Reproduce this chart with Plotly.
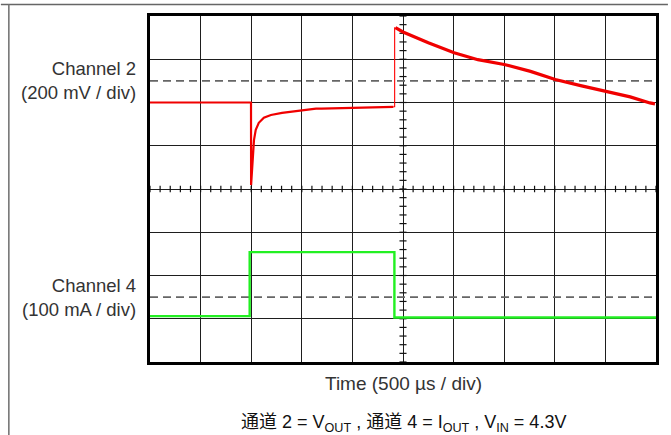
import plotly.graph_objects as go

# Screen divisions: 10 horizontal (500 us each), 8 vertical
X_DIVS = 10
Y_DIVS = 8

# Channel 2 (V_OUT), in screen divisions
ch2_t = [0.0, 1.996, 1.998, 2.035, 2.055, 2.09, 2.15, 2.25, 2.39, 2.61, 2.94,
         3.28, 3.39, 4.38, 4.81]
ch2_v = [6.00, 6.00, 4.09, 4.90, 5.13, 5.37, 5.53, 5.65, 5.71, 5.76, 5.81,
         5.86, 5.86, 5.88, 5.90]
ch2_step_t = [4.81, 4.835, 4.835, 4.85]
ch2_step_v = [5.90, 5.90, 7.73, 7.73]
ch2_decay_t = [4.85, 5.00, 5.50, 6.01, 6.48, 7.00, 7.52, 8.01, 8.51, 9.01,
               9.49, 9.88, 9.98]
ch2_decay_v = [7.73, 7.63, 7.38, 7.15, 6.99, 6.88, 6.72, 6.53, 6.39, 6.26,
               6.13, 5.99, 5.97]

# Channel 4 (I_OUT), in screen divisions
ch4_t = [0.0, 1.97, 1.97, 4.83, 4.83, 10.0]
ch4_v = [1.06, 1.06, 2.54, 2.54, 1.03, 1.03]

# Channel ground markers (dashed reference levels)
ref_levels = [6.5, 1.5]

channel_labels = ["Channel 2<br>(200 mV / div)", "Channel 4<br>(100 mA / div)"]
time_label = "Time (500 \u00b5s / div)"
caption = ("通道 2 = V<sub>OUT</sub> , 通道 4 = I<sub>OUT</sub> , "
           "V<sub>IN</sub> = 4.3V")

W, H = 671, 435
L, R, T, B = 150, 12, 16, 73
pw, ph = W - L - R, H - T - B


def px_x(p):
    return (p - L) / pw


def px_y(p):
    return (H - B - p) / ph


fig = go.Figure()

# dashed reference levels
for lvl in ref_levels:
    fig.add_trace(go.Scatter(x=[0, X_DIVS], y=[lvl, lvl], mode="lines",
                             line=dict(color="#666666", width=1.7, dash="8px,5px"),
                             hoverinfo="skip", showlegend=False))

# minor ticks on the centre cross-hair
tx, ty = [], []
for k in range(X_DIVS * 5 + 1):
    x = k * 0.2
    tx += [x, x, None]
    ty += [Y_DIVS / 2 - 0.075, Y_DIVS / 2 + 0.075, None]
for k in range(Y_DIVS * 5 + 1):
    y = k * 0.2
    tx += [X_DIVS / 2 - 0.07, X_DIVS / 2 + 0.07, None]
    ty += [y, y, None]
fig.add_trace(go.Scatter(x=tx, y=ty, mode="lines",
                         line=dict(color="#111111", width=1.2),
                         hoverinfo="skip", showlegend=False))

# Channel 4 trace
fig.add_trace(go.Scatter(x=ch4_t, y=ch4_v, mode="lines",
                         line=dict(color="#22f022", width=2.4),
                         hoverinfo="skip", showlegend=False))

# Channel 2 trace
fig.add_trace(go.Scatter(x=ch2_t, y=ch2_v, mode="lines",
                         line=dict(color="#f00000", width=2.2),
                         hoverinfo="skip", showlegend=False))
fig.add_trace(go.Scatter(x=ch2_step_t, y=ch2_step_v, mode="lines",
                         line=dict(color="#ff0000", width=1.1),
                         hoverinfo="skip", showlegend=False))
fig.add_trace(go.Scatter(x=ch2_decay_t, y=ch2_decay_v, mode="lines",
                         line=dict(color="#f00000", width=3.2),
                         hoverinfo="skip", showlegend=False))

axis_common = dict(showticklabels=False, ticks="", showgrid=True,
                   gridcolor="#1e1e1e", gridwidth=1.2, zeroline=False,
                   showline=True, linecolor="#000000", linewidth=3,
                   mirror=True, dtick=1, tick0=0, fixedrange=True)
fig.update_xaxes(range=[0, X_DIVS], **axis_common)
fig.update_yaxes(range=[0, Y_DIVS], **axis_common)

# page rules
fig.add_shape(type="line", xref="paper", yref="paper",
              x0=px_x(0), x1=px_x(W), y0=px_y(4.5), y1=px_y(4.5),
              line=dict(color="#666666", width=1.6))
fig.add_shape(type="line", xref="paper", yref="paper",
              x0=px_x(8), x1=px_x(8), y0=px_y(4.5), y1=px_y(H),
              line=dict(color="#777777", width=1.6))

font = "Liberation Sans, Arial, Noto Sans CJK SC"
for lbl, lvl in zip(channel_labels, ref_levels):
    fig.add_annotation(text=lbl, xref="paper", yref="y", x=px_x(138), y=lvl,
                       xanchor="right", yanchor="middle", align="right",
                       showarrow=False,
                       font=dict(family=font, size=18.5, color="#333333"))

fig.add_annotation(text=time_label, xref="paper", yref="paper",
                   x=px_x(405), y=px_y(384), xanchor="center", yanchor="middle",
                   showarrow=False,
                   font=dict(family=font, size=19, color="#333333"))
fig.add_annotation(text=caption, xref="paper", yref="paper",
                   x=px_x(405), y=px_y(423), xanchor="center", yanchor="middle",
                   showarrow=False,
                   font=dict(family=font, size=18, color="#111111"))

fig.update_layout(width=W, height=H,
                  margin=dict(l=L, r=R, t=T, b=B, pad=0),
                  paper_bgcolor="white", plot_bgcolor="white",
                  showlegend=False)

fig.write_html("out.html", config={"displayModeBar": False})
